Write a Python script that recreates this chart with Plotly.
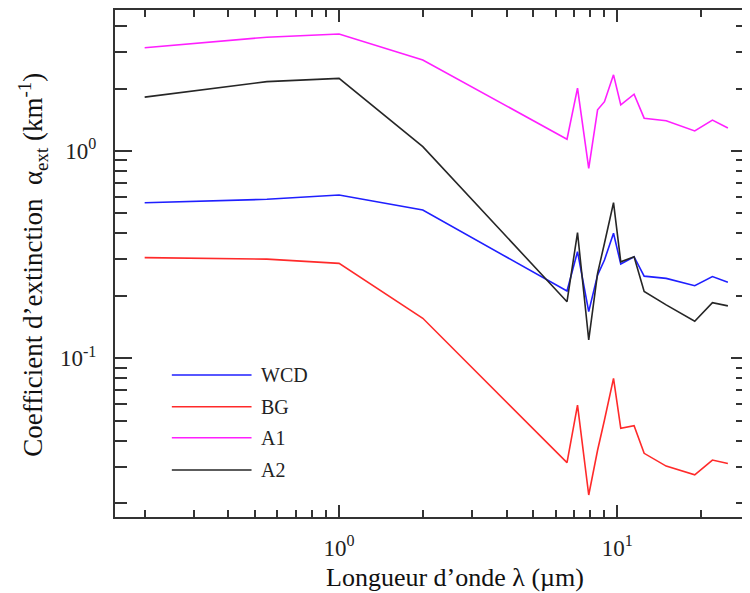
import plotly.graph_objects as go

# ---- data ----
wavelength = [0.2, 0.55, 1.0, 2.0, 6.6, 7.2, 7.9, 8.5, 9.0, 9.7, 10.3, 11.5, 12.5, 15, 19, 22, 25]
wcd = [0.563, 0.585, 0.613, 0.519, 0.211, 0.327, 0.168, 0.252, 0.298, 0.401, 0.285, 0.309, 0.249, 0.243, 0.224, 0.248, 0.233]
bg = [0.306, 0.301, 0.287, 0.156, 0.0314, 0.0595, 0.0219, 0.036, 0.0504, 0.080, 0.0459, 0.0473, 0.0348, 0.0302, 0.0274, 0.0323, 0.0311]
a1 = [3.15, 3.54, 3.67, 2.75, 1.14, 2.01, 0.825, 1.58, 1.73, 2.33, 1.67, 1.88, 1.44, 1.40, 1.25, 1.41, 1.29]
a2 = [1.82, 2.16, 2.24, 1.05, 0.1875, 0.404, 0.1226, 0.257, 0.359, 0.563, 0.292, 0.309, 0.210, 0.181, 0.151, 0.1855, 0.179]

series_names = ["WCD", "BG", "A1", "A2"]
series_values = [wcd, bg, a1, a2]
series_colors = ["#1f1fff", "#ff2a2a", "#ff1fff", "#262626"]

x_major = [1, 10]
x_major_text = ["10<sup>0</sup>", "10<sup>1</sup>"]
x_minor = [0.2, 0.3, 0.4, 0.5, 0.6, 0.7, 0.8, 0.9, 2, 3, 4, 5, 6, 7, 8, 9, 20]
y_major = [0.1, 1]
y_major_text = ["10<sup>-1</sup>", "10<sup>0</sup>"]
y_minor = [0.02, 0.03, 0.04, 0.05, 0.06, 0.07, 0.08, 0.09,
           0.2, 0.3, 0.4, 0.5, 0.6, 0.7, 0.8, 0.9, 2, 3, 4]

FONT = "Liberation Serif"
AX = "#333333"

fig = go.Figure()
for name, vals, col in zip(series_names, series_values, series_colors):
    fig.add_trace(go.Scatter(x=wavelength, y=vals, mode="lines", name=name,
                             line=dict(color=col, width=1.6), showlegend=False))

# hand-drawn legend (long sample lines like the reference)
leg_y = [0.2801, 0.2176, 0.1564, 0.0927]
shapes = []
annotations = []
for name, col, yy in zip(series_names, series_colors, leg_y):
    shapes.append(dict(type="line", xref="paper", yref="paper", x0=0.0898, x1=0.2157,
                       y0=yy, y1=yy, line=dict(color=col, width=1.6)))
    annotations.append(dict(xref="paper", yref="paper", x=0.228, y=yy, text=name,
                            showarrow=False, xanchor="left", yanchor="middle",
                            font=dict(family=FONT, size=20, color="#222")))

annotations.append(dict(xref="paper", yref="paper", x=0.537, y=-0.1203,
                        text="Longueur d\u2019onde \u03bb (\u00b5m)", showarrow=False,
                        xanchor="center", yanchor="middle",
                        font=dict(family=FONT, size=26, color="#111")))
annotations.append(dict(xref="paper", yref="paper", x=-0.13, y=0.497,
                        text="Coefficient d\u2019extinction  \u03b1<sub>ext</sub> (km<sup>-1</sup>)",
                        showarrow=False, textangle=-90, xanchor="center", yanchor="middle",
                        font=dict(family=FONT, size=27, color="#111")))

# page body has an 8px margin, so the figure is sized 742x585
fig.update_layout(
    width=742, height=585,
    margin=dict(l=107, r=0, t=2, b=76),
    plot_bgcolor="white", paper_bgcolor="white",
    shapes=shapes, annotations=annotations,
    font=dict(family=FONT, color="#222"),
)
fig.update_xaxes(type="log", range=[-0.8057, 1.4703],
                 showline=True, linecolor=AX, linewidth=2, mirror="ticks",
                 showgrid=False, zeroline=False,
                 tickmode="array", tickvals=x_major, ticktext=x_major_text,
                 ticks="inside", ticklen=12, tickwidth=2, tickcolor=AX,
                 ticklabelstandoff=9,
                 tickfont=dict(family=FONT, size=23, color="#222"),
                 minor=dict(tickmode="array", tickvals=x_minor, ticks="inside",
                            ticklen=7, tickwidth=2, tickcolor=AX, showgrid=False))
fig.update_yaxes(type="log", range=[-1.7656, 0.6802],
                 showline=True, linecolor=AX, linewidth=2, mirror="ticks",
                 showgrid=False, zeroline=False,
                 tickmode="array", tickvals=y_major, ticktext=y_major_text,
                 ticks="inside", ticklen=17, tickwidth=2, tickcolor=AX,
                 ticklabelstandoff=12,
                 tickfont=dict(family=FONT, size=23, color="#222"),
                 minor=dict(tickmode="array", tickvals=y_minor, ticks="inside",
                            ticklen=12, tickwidth=2, tickcolor=AX, showgrid=False))

fig.write_html("out.html")
